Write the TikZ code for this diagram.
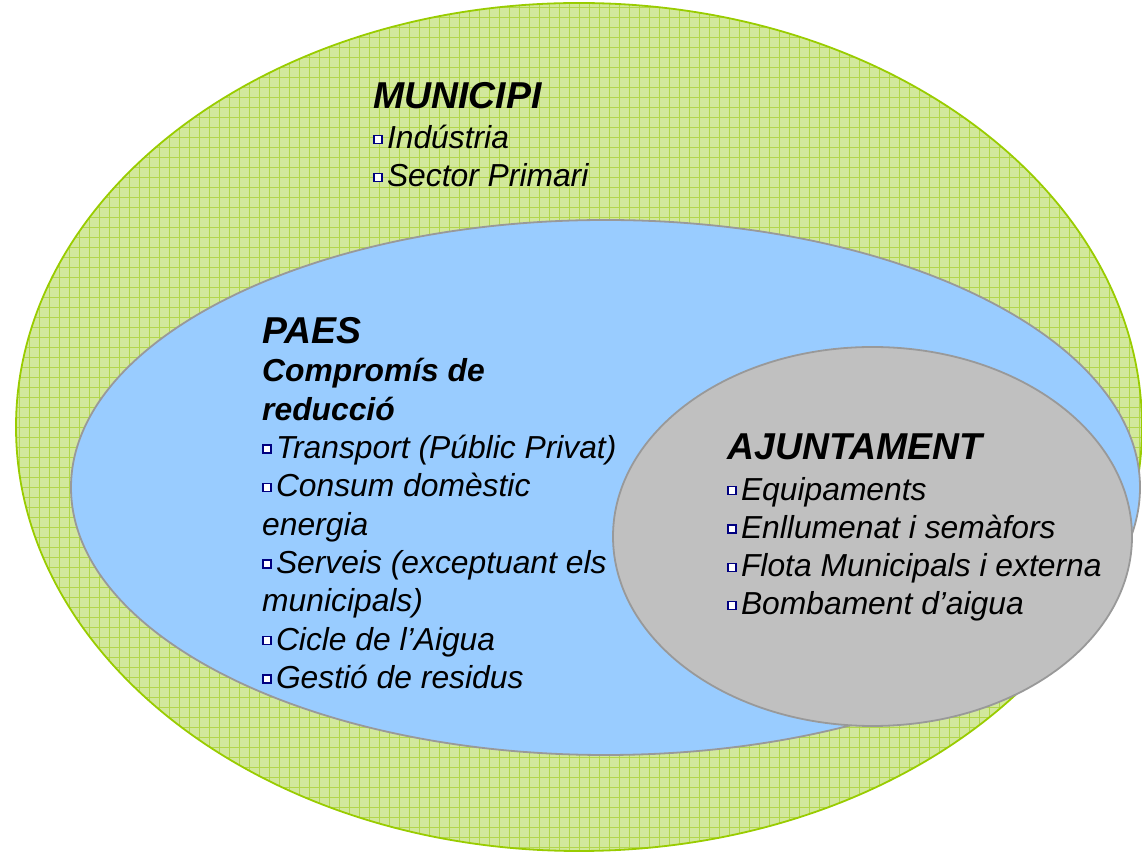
\documentclass[tikz,border=0pt]{standalone}
\usepackage{fontspec}
\setmainfont{Liberation Sans}
\usetikzlibrary{shapes.geometric}

\definecolor{municipiline}{HTML}{99CC00}
\definecolor{municipifill}{HTML}{D2E89C}
\definecolor{municipigrid}{HTML}{B2D64C}
\definecolor{paesfill}{HTML}{99CCFF}
\definecolor{ajuntfill}{HTML}{C0C0C0}
\definecolor{zoneline}{HTML}{999999}
\definecolor{bulletblue}{HTML}{000080}

\newcommand{\sqitem}{\tikz[baseline=0pt]\draw[bulletblue, fill=white, line width=1.3pt] (0pt,5.5pt) rectangle (8pt,13.5pt);\hspace{4.5pt}}

\begin{document}
\begin{tikzpicture}[x=1pt, y=1pt,
    zone/.style ={ellipse, inner sep=0pt, outer sep=0pt, line width=1.8pt},
    heading/.style ={anchor=base west, inner sep=0pt, font=\fontsize{37.4}{40}\selectfont\bfseries\itshape},
    itemlist/.style ={anchor=base west, inner sep=0pt, align=left, font=\fontsize{31.8}{38.3}\selectfont\itshape}]
   \useasboundingbox (0,0) rectangle (1142,853);

   \node[zone, draw=municipiline, fill=municipifill, minimum width=1126, minimum height=848,
     path picture={\draw[municipigrid, line width=0.8pt] (path picture bounding box.south west)
       grid[step=10pt] (path picture bounding box.north east);}] (municipi) at (579,426) {};
   \node[zone, draw=zoneline, fill=paesfill, minimum width=1069, minimum height=535] (paes) at (605.5,365.5) {};
   \node[zone, draw=zoneline, fill=ajuntfill, minimum width=519, minimum height=379] (ajuntament) at (872.5,316.5) {};

   % lists sit on the baseline of their last line
   \node[heading] (municipititle) at (373,744) {MUNICIPI};
   \node[itemlist] (municipilist) at (373,666) {\sqitem Indústria\\ \sqitem Sector Primari};

   \node[heading] (paestitle) at (262,509) {PAES};
   \node[itemlist] (paeslist) at (262,164.6) {\bfseries Compromís de\\ \bfseries reducció\\
     \sqitem Transport (Públic Privat)\\ \sqitem Consum domèstic\\ energia\\
     \sqitem Serveis (exceptuant els\\ municipals)\\ \sqitem Cicle de l’Aigua\\ \sqitem Gestió de residus};

   \node[heading] (ajunttitle) at (727,393) {AJUNTAMENT};
   \node[itemlist] (ajuntlist) at (727,238) {\sqitem Equipaments\\ \sqitem Enllumenat i semàfors\\
     \sqitem Flota Municipals i externa\\ \sqitem Bombament d’aigua};
\end{tikzpicture}
\end{document}
